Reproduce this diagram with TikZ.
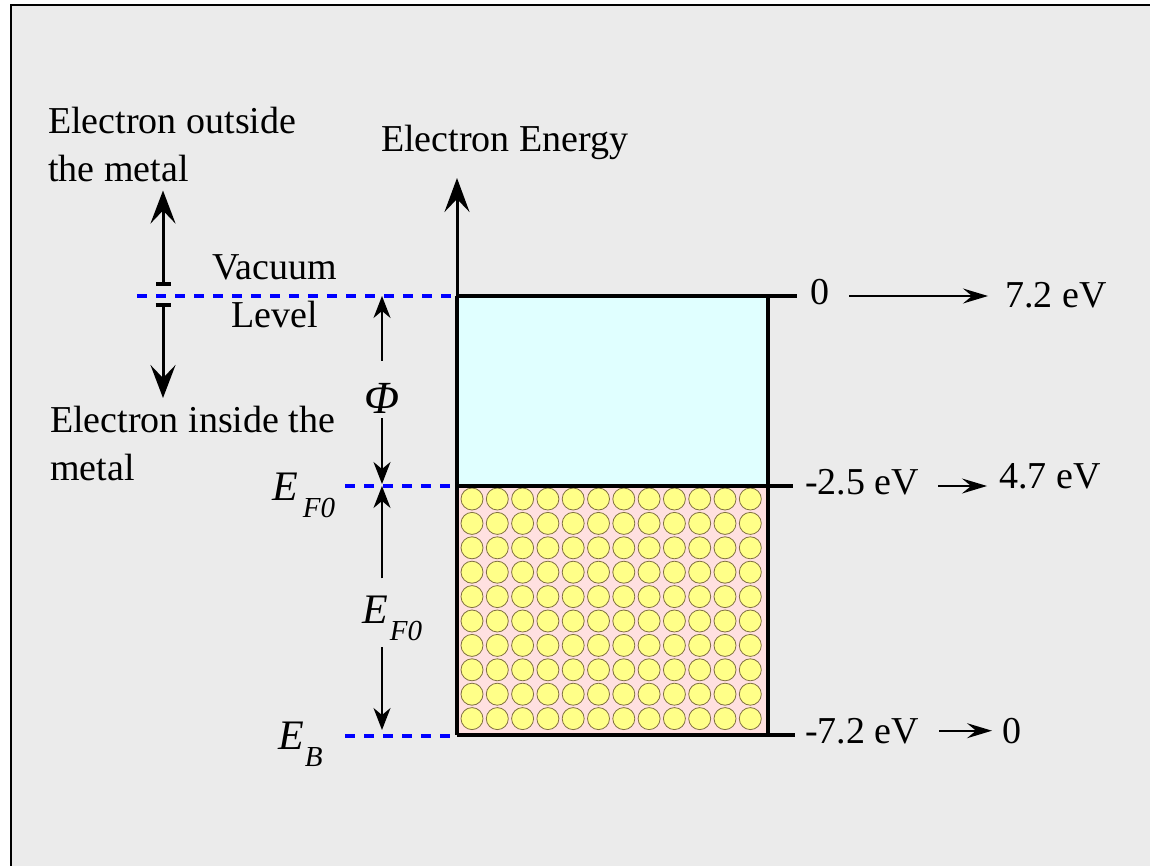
\documentclass[tikz,border=0pt]{standalone}
\usepackage{fontspec}
\setmainfont{Liberation Serif}
\usetikzlibrary{arrows.meta,calc}
\definecolor{bgGray}{HTML}{EBEBEB}
\definecolor{vacCyan}{HTML}{E0FFFF}
\definecolor{seaPink}{HTML}{FFE0E0}
\definecolor{ballFill}{HTML}{FFFF88}
\definecolor{ballEdge}{HTML}{807040}
\newcommand{\EsubX}[2][1pt]{\textit{E}\kern#1\raisebox{-17pt}{\fontsize{29}{29}\selectfont\textit{#2}}}
\begin{document}
\begin{tikzpicture}[x=1pt,y=-1pt,
  every node/.style={inner sep=0pt, font=\fontsize{38}{48}\selectfont},
  mathlab/.style={font=\fontsize{42}{42}\selectfont},
  vacdash/.style={blue, line width=4pt, dash pattern=on 10pt off 9pt},
  boxline/.style={line width=4pt},
  axisarrow/.style={line width=3pt, -{Stealth[length=34pt,width=25pt,inset=13pt]}},
  tarrow/.style={line width=3pt, {Bar[width=15pt,line width=4pt]}-{Stealth[length=33pt,width=25pt,inset=13pt]}},
  thinarrow/.style={line width=1.7pt, -{Stealth[length=22pt,width=17pt,inset=7pt]}},
  rarrow/.style={line width=1.8pt, -{Stealth[length=25pt,width=15pt,inset=9pt]}},
  ball/.style={draw=ballEdge, fill=ballFill, line width=0.8pt}]
\useasboundingbox (0,0) rectangle (1150,866);
\fill[white] (0,0) rectangle (1150,866);
\fill[bgGray] (11,5) rectangle (1150,866);
\draw[line width=2.5pt] (11,866) -- (11,5) -- (1150,5);

% key coordinates
\coordinate (vacL) at (137,296);
\coordinate (boxTL) at (457,296);
\coordinate (boxTR) at (768,296);
\coordinate (tickT) at (797,296);
\coordinate (efL) at (345,486);
\coordinate (efR) at (457,486);
\coordinate (efBR) at (768,486);
\coordinate (tickF) at (793,486);
\coordinate (ebL) at (345,736);
\coordinate (ebR) at (452,736);
\coordinate (boxBL) at (457,735);
\coordinate (boxBR) at (768,735);
\coordinate (tickB) at (795,735);
\coordinate (axisTop) at (457,178);
\coordinate (upBar) at (163,286);
\coordinate (lowBar) at (163,303);

% fills
\fill[vacCyan] (boxTL) rectangle (efBR);
\fill[seaPink] (efR) rectangle (boxBR);
\foreach \i in {0,...,11}{\foreach \j in {0,...,9}{
  \draw[ball] ({472+25.3*\i},{499+24.4*\j}) circle[radius=11pt];}}

% dashed levels
\draw[vacdash] (vacL) -- (boxTL);
\draw[vacdash] (efL) -- (efR);
\draw[vacdash] (ebL) -- (ebR);

% box
\draw[boxline] (boxTL) -- (tickT);
\draw[boxline] (efR) -- (tickF);
\draw[boxline] (boxBL) -- (tickB);
\draw[boxline] (boxTR) -- (boxBR);
\draw[boxline] (boxTL) -- (boxBL);
\draw[axisarrow] (boxBL) -- (axisTop);

% texts
\node[anchor=north west, align=left] (outside) at (48,107.4) {Electron outside\\the metal};
\node[anchor=north west, align=left] (inside) at (50,406) {Electron inside the\\metal};
\node[anchor=base west] (energy) at (381,152) {Electron Energy};
\node[anchor=north, align=center] (vaclev) at (275,254.4) {Vacuum\\Level};
\node[font=\fontsize{46}{46}\selectfont] (phi) at (382,398) {\textit{Φ}};
\node[mathlab, anchor=base west] (efleft) at (272,500) {\EsubX[5pt]{F0}};
\node[mathlab, anchor=base west] (efmid) at (362,623) {\EsubX[2pt]{F0}};
\node[mathlab, anchor=base west] (eb) at (278,749) {\EsubX{B}};

\node[anchor=base west] (zeroT) at (810,305) {0};
\node[anchor=base west] (v72) at (1005,308) {7.2 eV};
\node[anchor=base west] (m25) at (805,494) {-2.5 eV};
\node[anchor=base west] (v47) at (999,488) {4.7 eV};
\node[anchor=base west] (m72) at (805,743) {-7.2 eV};
\node[anchor=base west] (zeroB) at (1002,743) {0};

% left arrows
\draw[tarrow, shorten >=8pt] (upBar) -- (outside.south -| upBar);
\draw[tarrow, shorten >=8pt] (lowBar) -- (inside.north -| lowBar);

% phi and E_F0 arrows
\draw[thinarrow, shorten <=22pt] (phi.north) -- (phi.north |- boxTL);
\draw[thinarrow, shorten <=5pt, shorten >=2pt] (phi.south) -- (phi.south |- efR);
\draw[thinarrow, shorten <=17pt] (phi |- efmid.north) -- (phi |- efR);
\draw[thinarrow, shorten <=7pt, shorten >=6pt] (phi |- efmid.south) -- (phi |- ebR);

% right arrows
\draw[rarrow, shorten <=20pt, shorten >=17pt] (zeroT.east |- tickT) -- (v72.west |- tickT);
\draw[rarrow, shorten <=133pt, shorten >=12pt] (m25.west |- tickF) -- (v47.west |- tickF);
\draw[rarrow, shorten <=134pt, shorten >=10pt] (m72.west) -- (m72.west -| zeroB.west);
\end{tikzpicture}
\end{document}
